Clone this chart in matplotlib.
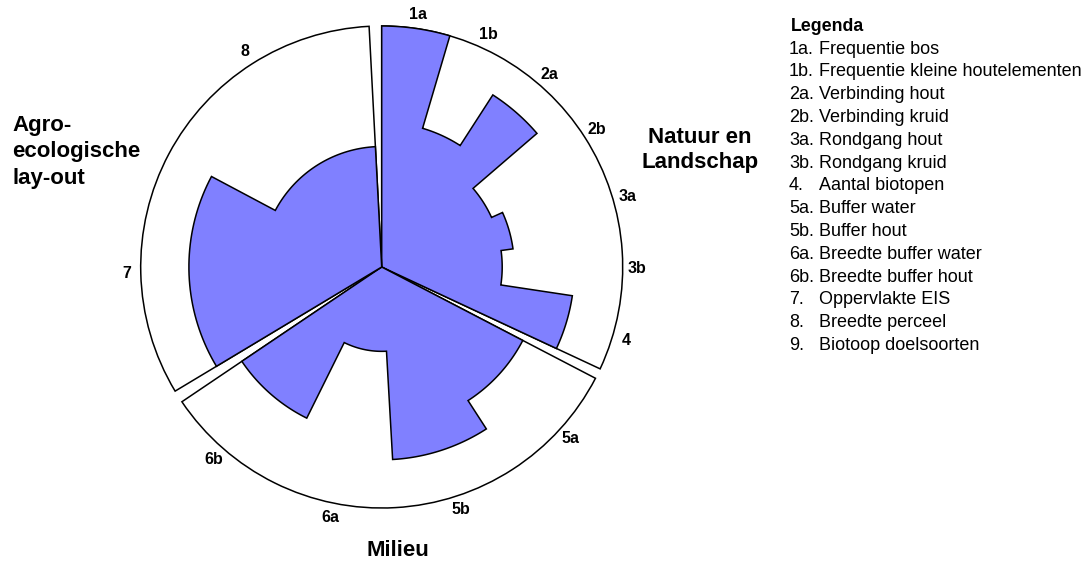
import numpy as np
import matplotlib
matplotlib.use('Agg')
from matplotlib import pyplot as plt

plt.rcParams['font.family'] = ['Liberation Sans', 'DejaVu Sans']

# scores per indicator (fraction of maximum)
natuur_codes = ['1a', '1b', '2a', '2b', '3a', '3b', '4']
natuur_vals = [1.00, 0.60, 0.85, 0.50, 0.55, 0.50, 0.80]

milieu_codes = ['5a', '5b', '6a', '6b']
milieu_vals = [0.66, 0.80, 0.35, 0.70]

agro_codes = ['7', '8']
agro_vals = [0.80, 0.50]

# legend
legend_nrs = ['1a.', '1b.', '2a.', '2b.', '3a.', '3b.', '4.', '5a.', '5b.',
              '6a.', '6b.', '7.', '8.', '9.']
legend_names = ['Frequentie bos', 'Frequentie kleine houtelementen',
                'Verbinding hout', 'Verbinding kruid', 'Rondgang hout',
                'Rondgang kruid', 'Aantal biotopen', 'Buffer water',
                'Buffer hout', 'Breedte buffer water', 'Breedte buffer hout',
                'Oppervlakte EIS', 'Breedte perceel', 'Biotoop doelsoorten']

# angular span (degrees, clockwise from top) of each group
groups = [(natuur_codes, natuur_vals, 0.0, 115.0),
          (milieu_codes, milieu_vals, 117.5, 236.0),
          (agro_codes, agro_vals, 239.0, 357.0)]

W, H = 1087, 561
fig = plt.figure(figsize=(W / 100, H / 100), dpi=100)

# polar axes: centre at (381.7, 267) px, radius 241 px
cx, cy, R = 381.7, 267.0, 241.0
ax = fig.add_axes([(cx - R) / W, (H - cy - R) / H, 2 * R / W, 2 * R / H],
                  projection='polar')
ax.set_theta_zero_location('N')
ax.set_theta_direction(-1)

blue = '#8080FF'
for codes, vals, a0, a1 in groups:
    # white background sector for the group
    ax.bar(np.deg2rad((a0 + a1) / 2), 1.0, width=np.deg2rad(a1 - a0),
           bottom=0, color='white', edgecolor='black', linewidth=1.1,
           clip_on=False)

    # blue outline of the scores (one shape, no inner lines)
    n = len(vals)
    step = (a1 - a0) / n
    th = [np.deg2rad(a0)]
    rr = [0.0]
    for i, v in enumerate(vals):
        t = np.deg2rad(np.linspace(a0 + i * step, a0 + (i + 1) * step, 40))
        th.extend(t)
        rr.extend([v] * len(t))
        # indicator label outside the circle
        ax.text(np.deg2rad(a0 + (i + 0.5) * step), 1.06, codes[i],
                ha='center', va='center', fontsize=11.5, fontweight='bold')
    th.append(np.deg2rad(a1))
    rr.append(0.0)
    ax.fill(th, rr, facecolor=blue, edgecolor='black', linewidth=1.1,
            clip_on=False)

ax.set_ylim(0, 1)
ax.set_axis_off()

# group titles
fig.text(700 / W, 1 - 150 / H, 'Natuur en\nLandschap', ha='center',
         va='center', fontsize=16, fontweight='bold', linespacing=1.25)
fig.text(398 / W, 1 - 550 / H, 'Milieu', ha='center', va='center',
         fontsize=16, fontweight='bold')
fig.text(12.5 / W, 1 - 152 / H, 'Agro-\necologische\nlay-out', ha='left',
         va='center', fontsize=16, fontweight='bold', linespacing=1.34)

# legend
fig.text(790.5 / W, 1 - 26.7 / H, 'Legenda', ha='left', va='center',
         fontsize=12.8, fontweight='bold')
for i, (nr, name) in enumerate(zip(legend_nrs, legend_names)):
    y = 1 - (49 + i * 22.8) / H
    fig.text(789 / W, y, nr, ha='left', va='center', fontsize=13)
    fig.text(819 / W, y, name, ha='left', va='center', fontsize=13)

fig.savefig('out.png', dpi=100)
